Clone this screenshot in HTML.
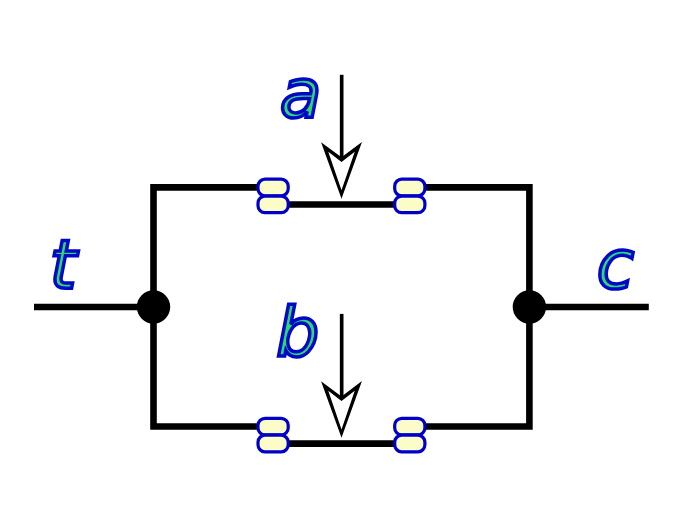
<!DOCTYPE html>
<html><head><meta charset="utf-8"><style>
html,body{margin:0;padding:0;background:#fff;}
body{width:683px;height:512px;overflow:hidden;}
svg{display:block;}
</style></head><body>
<svg width="683" height="512" viewBox="0 0 683 512">
<rect width="683" height="512" fill="#fff"/>
<g fill="none" stroke="#000" stroke-width="6.6" stroke-linejoin="miter" stroke-linecap="butt">
<path d="M34 306.95 H153.5 M529.4 306.95 H648.8"/>
<path d="M273.1 187.4 H153.5 V426.5 H273.1 M409.8 187.4 H529.4 V426.5 H409.8"/>
<path d="M273.1 204.5 H409.8 M273.1 443.6 H409.8"/>
</g>
<circle cx="153.5" cy="306.95" r="16.7" fill="#000"/>
<circle cx="529.4" cy="306.95" r="16.7" fill="#000"/>
<g fill="#fbfcc8" stroke="#0000c8" stroke-width="3.2">
<rect x="258.00" y="179.20" width="30.2" height="16.6" rx="7"/><rect x="258.00" y="196.10" width="30.2" height="16.6" rx="7"/><rect x="394.70" y="179.20" width="30.2" height="16.6" rx="7"/><rect x="394.70" y="196.10" width="30.2" height="16.6" rx="7"/><rect x="258.00" y="418.30" width="30.2" height="16.6" rx="7"/><rect x="258.00" y="435.20" width="30.2" height="16.6" rx="7"/><rect x="394.70" y="418.30" width="30.2" height="16.6" rx="7"/><rect x="394.70" y="435.20" width="30.2" height="16.6" rx="7"/>
</g>
<rect x="339.85" y="74.8" width="3.65" height="84" fill="#000"/><polygon points="321.05,142.2 341.5,157.3 361.95,141.95 341.5,198.7" fill="#000"/><polygon points="328.25,151.77 341.5,161.9 354.75,151.77 341.5,190.3" fill="#fff"/><rect x="339.85" y="313.9" width="3.65" height="84" fill="#000"/><polygon points="321.05,381.29999999999995 341.5,396.4 361.95,381.04999999999995 341.5,437.79999999999995" fill="#000"/><polygon points="328.25,390.87 341.5,401.0 354.75,390.87 341.5,429.4" fill="#fff"/>
<g fill="#2adc70" stroke="#0008c8" stroke-width="3.5" stroke-linejoin="miter">
<path transform="translate(279.76 117.16) scale(0.03320 -0.03320)" stroke-width="105.4" d="M1100 639 975 0H791L825 170Q744 70 640.5 20.5Q537 -29 410 -29Q267 -29 175.5 58.5Q84 146 84 283Q84 479 240.5 593.0Q397 707 672 707H928L938 756Q940 764 941.0 773.5Q942 783 942 803Q942 892 869.5 941.5Q797 991 666 991Q576 991 481.5 968.0Q387 945 287 899L319 1069Q423 1108 522.5 1127.5Q622 1147 715 1147Q913 1147 1016.5 1061.0Q1120 975 1120 811Q1120 778 1115.0 733.5Q1110 689 1100 639ZM901 563H717Q491 563 382.5 502.5Q274 442 274 315Q274 227 329.5 177.0Q385 127 483 127Q633 127 745.0 234.5Q857 342 893 522Z"/>
<path transform="translate(276.12 356.00) scale(0.03320 -0.03320)" stroke-width="105.4" d="M1014 684Q1014 829 947.5 911.0Q881 993 764 993Q679 993 604.5 951.5Q530 910 475 831Q417 748 383.5 638.5Q350 529 350 420Q350 282 415.5 203.5Q481 125 596 125Q683 125 757.0 165.5Q831 206 887 285Q944 367 979.0 476.0Q1014 585 1014 684ZM442 950Q510 1042 612.5 1094.5Q715 1147 827 1147Q999 1147 1100.5 1031.0Q1202 915 1202 717Q1202 555 1142.5 403.0Q1083 251 973 133Q901 55 807.0 13.0Q713 -29 610 -29Q501 -29 421.0 21.0Q341 71 291 170L258 0H74L377 1556H561Z"/>
<path transform="translate(49.75 288.17) scale(0.03320 -0.03320)" stroke-width="105.4" d="M866 1120 838 977H471L352 369Q346 335 343.0 312.0Q340 289 340 276Q340 212 378.5 183.0Q417 154 502 154H688L657 0H481Q317 0 236.5 64.0Q156 128 156 258Q156 281 159.0 308.5Q162 336 168 369L287 977H131L160 1120H313L375 1438H559L498 1120Z"/>
<path transform="translate(596.71 288.16) scale(0.03320 -0.03320)" stroke-width="105.4" d="M1098 1077 1061 895Q995 943 920.5 967.0Q846 991 766 991Q678 991 598.5 960.0Q519 929 465 872Q379 785 332.0 668.0Q285 551 285 426Q285 275 360.5 201.0Q436 127 590 127Q666 127 751.5 150.0Q837 173 930 219L895 37Q815 4 730.5 -12.5Q646 -29 557 -29Q334 -29 214.0 82.5Q94 194 94 401Q94 575 156.5 721.5Q219 868 342 985Q426 1065 539.0 1106.0Q652 1147 786 1147Q864 1147 941.0 1129.5Q1018 1112 1098 1077Z"/>
</g>
</svg>
</body></html>
